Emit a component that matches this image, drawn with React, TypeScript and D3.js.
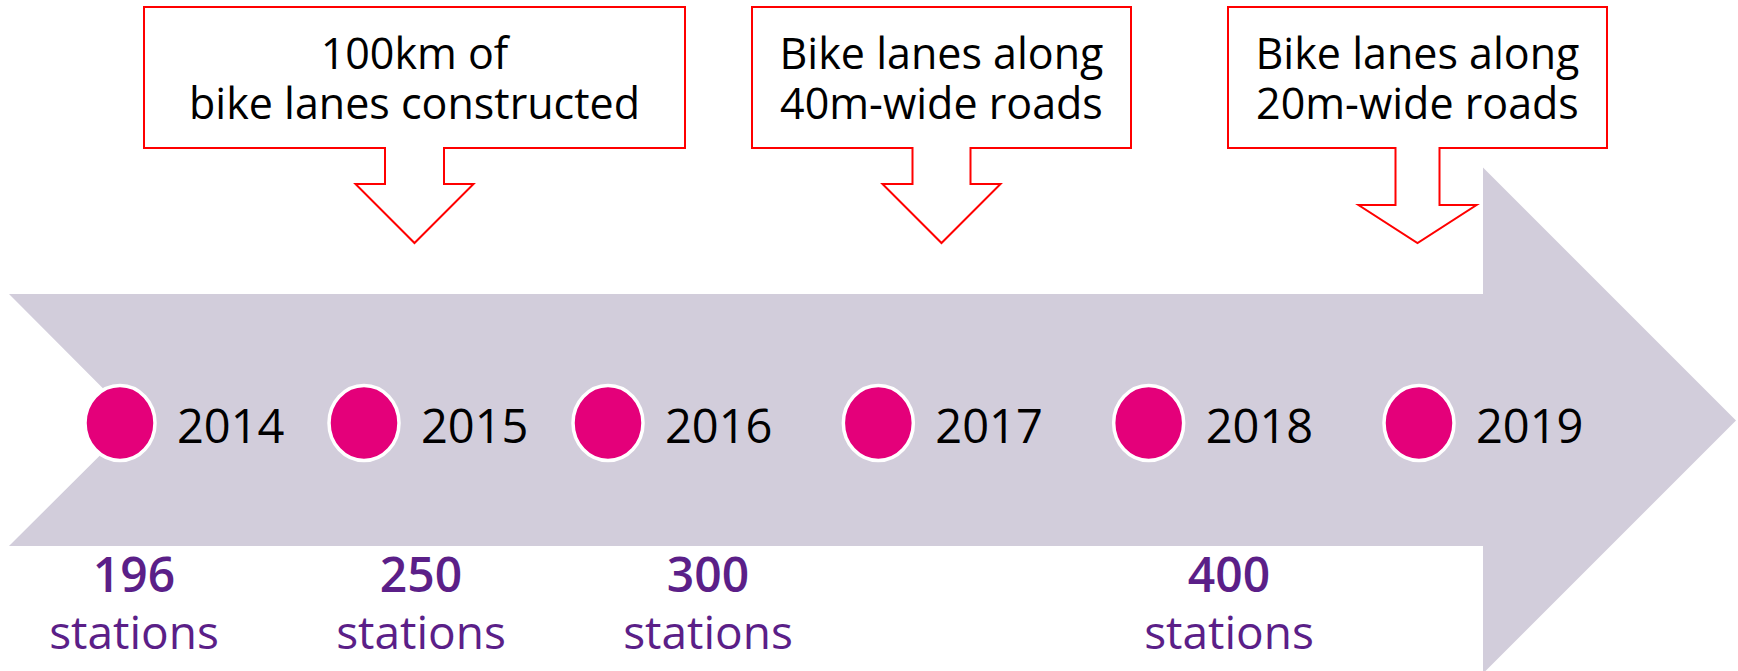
import * as d3 from "d3";

// timeline data
const years = [2014, 2015, 2016, 2017, 2018, 2019];
const stationYears = [2014, 2015, 2016, 2018];
const stationCounts = [196, 250, 300, 400];
const calloutLines = [
  ["100km of", "bike lanes constructed"],
  ["Bike lanes along", "40m-wide roads"],
  ["Bike lanes along", "20m-wide roads"],
];

// callout shapes (layout only)
const calloutBox = [
  { w: 541, stem: 29.5, neck: 184 },
  { w: 379, stem: 29, neck: 184 },
  { w: 379, stem: 22, neck: 205 },
];

const W = 1738;
const H = 671;
const FONT = "'Open Sans', 'Noto Sans', sans-serif";

const App = () => {
  // x positions of the year markers
  const xYear = d3.scaleLinear().domain([2014, 2016, 2019]).range([120, 608, 1419]);
  const xStation = d3.scaleLinear().domain([2014, 2016, 2018]).range([134, 708, 1229]);
  const xCallout = d3.scaleLinear().domain([0, 1, 2]).range([414.5, 941.5, 1417.5]);

  const midY = 420.5;
  const markerY = 423;

  // big background arrow
  const shaftTop = 294, shaftBot = 546, left = 9, notch = 135, headX = 1483, tipX = 1736;
  const headHalf = tipX - headX;
  const arrowPts: [number, number][] = [
    [left, shaftTop],
    [headX, shaftTop],
    [headX, midY - headHalf],
    [tipX, midY],
    [headX, midY + headHalf],
    [headX, shaftBot],
    [left, shaftBot],
    [notch, midY],
  ];
  const line = d3.line();
  const arrowPath = line(arrowPts) + "Z";

  const top = 7, bot = 148, headHw = 59, tipY = 243;
  const calloutPath = (i: number) => {
    const c = xCallout(i);
    const b = calloutBox[i];
    const L = c - b.w / 2, R = c + b.w / 2;
    const pts: [number, number][] = [
      [L, top], [R, top], [R, bot],
      [c + b.stem, bot], [c + b.stem, b.neck], [c + headHw, b.neck],
      [c, tipY],
      [c - headHw, b.neck], [c - b.stem, b.neck], [c - b.stem, bot],
      [L, bot],
    ];
    return line(pts) + "Z";
  };

  return (
    <svg width={W} height={H} style={{ position: "absolute", left: 0, top: 0, background: "#fff" }}>
      <path d={arrowPath} fill="#D2CDDB" />

      {calloutLines.map((lines, i) => (
        <g key={"c" + i}>
          <path d={calloutPath(i)} fill="#fff" stroke="#FF0000" strokeWidth={2} />
          <text
            x={xCallout(i)}
            y={69}
            textAnchor="middle"
            fontFamily={FONT}
            fontSize={43}
            fill="#000"
          >
            {lines.map((t, j) => (
              <tspan key={j} x={xCallout(i)} dy={j === 0 ? 0 : 50}>
                {t}
              </tspan>
            ))}
          </text>
        </g>
      ))}

      {years.map((y) => (
        <g key={y}>
          <ellipse cx={xYear(y)} cy={markerY} rx={35} ry={37.5} fill="#E4007A" stroke="#fff" strokeWidth={3.5} />
          <text x={xYear(y) + 57} y={markerY + 19.5} fontFamily={FONT} fontSize={47} fill="#000">
            {y}
          </text>
        </g>
      ))}

      {stationYears.map((y, i) => (
        <g key={"s" + y} fill="#5B1F88" fontFamily={FONT} textAnchor="middle">
          <text x={xStation(y)} y={649} fontSize={46}>
            <tspan x={xStation(y)} dy={-57.5} fontSize={48} fontWeight={600}>
              {stationCounts[i]}
            </tspan>
            <tspan x={xStation(y)} dy={57.5}>
              stations
            </tspan>
          </text>
        </g>
      ))}
    </svg>
  );
};

export default App;
